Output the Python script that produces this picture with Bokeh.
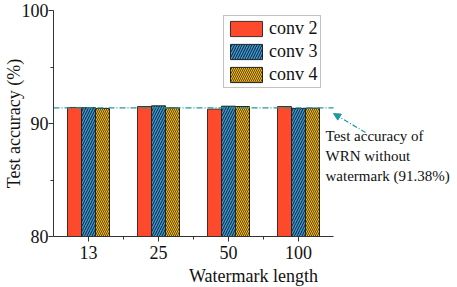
import numpy as np
from bokeh.plotting import figure
from bokeh.models import (Range1d, FixedTicker, Legend, LegendItem, Label, Arrow,
                          NormalHead)
from bokeh.embed import file_html
from bokeh.resources import INLINE

categories = ["13", "25", "50", "100"]
conv2 = [91.42, 91.50, 91.27, 91.50]
conv3 = [91.40, 91.56, 91.53, 91.33]
conv4 = [91.33, 91.39, 91.50, 91.36]
baseline = 91.38
series_names = ["conv 2", "conv 3", "conv 4"]
notes = ["Test accuracy of", "WRN without", "watermark (91.38%)"]

FONT = "Liberation Serif"
TEAL = "#1f9a9a"

p = figure(frame_width=400, frame_height=226, output_backend="svg", toolbar_location=None,
           x_range=Range1d(0.5, 6.214), y_range=Range1d(80, 100),
           min_border_left=45, min_border_right=0, min_border_top=10, min_border_bottom=41)
p.outline_line_color = None
p.grid.visible = False

xs = np.arange(len(categories)) + 1

r2 = p.vbar(x=xs - 0.2, top=conv2, bottom=80, width=0.2, fill_color="#fd4a2d",
            line_color="#4a2a22", line_width=1)
r3 = p.vbar(x=xs, top=conv3, bottom=80, width=0.2, fill_color="#3a99d9",
            line_color="#222222", line_width=1, hatch_pattern="right_diagonal_line",
            hatch_color="#111111", hatch_scale=5, hatch_weight=0.9)
r4 = p.vbar(x=xs + 0.2, top=conv4, bottom=80, width=0.2, fill_color="#fcbd0c",
            line_color="#222222", line_width=1, hatch_pattern="left_diagonal_line",
            hatch_color="#111111", hatch_scale=4, hatch_weight=0.7)

# baseline
p.line(x=[0.5, 4.5], y=[baseline, baseline], line_color=TEAL, line_width=1.2,
       line_dash="6 2 1 2")

# axes
p.xaxis.ticker = FixedTicker(ticks=list(xs), minor_ticks=[1.5, 2.5, 3.5])
p.xaxis.major_label_overrides = {int(x): c for x, c in zip(xs, categories)}
p.xaxis.bounds = (0.5, 4.5)
p.yaxis.ticker = FixedTicker(ticks=[80, 90, 100], minor_ticks=[85, 95])
for ax in (p.xaxis[0], p.yaxis[0]):
    ax.axis_line_color = "#333333"
    ax.major_tick_line_color = "#333333"
    ax.minor_tick_line_color = "#333333"
    ax.major_tick_out = 5
    ax.major_tick_in = 0
    ax.minor_tick_out = 3
    ax.minor_tick_in = 0
    ax.major_label_text_font = FONT
    ax.major_label_text_font_size = "18px"
    ax.major_label_text_color = "#111111"
    ax.axis_label_text_font = FONT
    ax.axis_label_text_font_size = "18px"
    ax.axis_label_text_font_style = "normal"
    ax.axis_label_text_color = "#111111"
p.xaxis.axis_label = "Watermark length"
p.yaxis.axis_label = "Test accuracy (%)"
p.xaxis.major_label_standoff = 4
p.yaxis.major_label_standoff = 0
p.xaxis.axis_label_standoff = 4
p.yaxis.axis_label_standoff = -5

legend = Legend(items=[LegendItem(label=series_names[0], renderers=[r2]),
                       LegendItem(label=series_names[1], renderers=[r3]),
                       LegendItem(label=series_names[2], renderers=[r4])],
                location=(170, 148), glyph_width=40, glyph_height=19,
                label_text_font=FONT, label_text_font_size="18px",
                label_text_color="#111111", spacing=2, padding=2, margin=0,
                border_line_color="#888888", label_standoff=3, label_height=19)
p.add_layout(legend)

# annotation
p.add_layout(Arrow(end=NormalHead(size=7, fill_color=TEAL, line_color=TEAL),
                   x_start=4.957, y_start=89.2, x_end=4.5, y_end=90.88,
                   line_color=TEAL, line_width=1.2, line_dash="5 2 1 2"))
for i, t in enumerate(notes):
    p.add_layout(Label(x=4.386, y=88.85 - i * 1.73, text=t, text_font=FONT,
                       text_font_size="15px", text_color="#111111",
                       text_baseline="middle"))

open("out.html", "w").write(file_html(p, INLINE))
